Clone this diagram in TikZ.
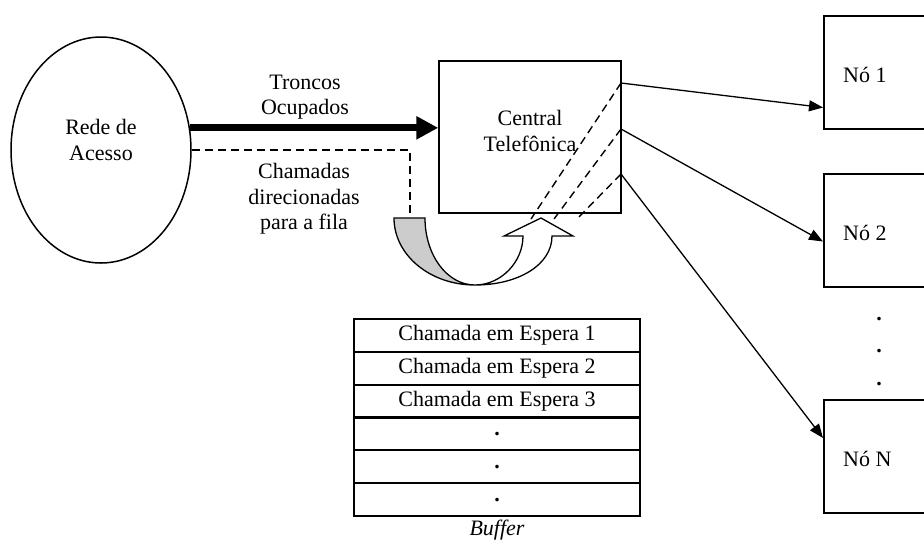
\documentclass[tikz,border=0pt]{standalone}
\usepackage{fontspec}
\setmainfont{Liberation Serif}
\usetikzlibrary{arrows.meta,shapes.geometric,calc}

\begin{document}
\begin{tikzpicture}[x=1pt,y=-1pt,
  txt/.style={font=\fontsize{22}{25.5}\selectfont, inner sep=0pt, align=center},
  itxt/.style={font=\fontsize{22}{25.5}\selectfont\itshape, inner sep=0pt},
  box/.style={draw, line width=1.5pt, inner sep=0pt},
  rowbox/.style={draw, line width=2pt, inner sep=0pt, minimum width=286pt, minimum height=32.83pt,
                 font=\fontsize{22}{25.5}\selectfont},
  dsh/.style={dash pattern=on 8pt off 5pt, line width=1.4pt},
  link/.style={line width=1.3pt, -{Triangle[length=14pt,width=11pt]}},
  trunk/.style={line width=7pt, -{Triangle[length=22pt,width=22pt]}},
  uturn/.style={line width=1.3pt, line join=miter},
]
\useasboundingbox (0,0) rectangle (924,542);
\clip (0,0) rectangle (924,542);

% access network
\node[box, ellipse, minimum width=180pt, minimum height=226pt] (rede) at (101,150) {};
\node[txt] (redetxt) at (101,140) {Rede de\\Acesso};

% telephone exchange
\node[box, minimum width=182pt, minimum height=152pt] (central) at (530,137) {};
\node[txt] (centraltxt) at (530,131) {Central\\Telefônica};

% destination nodes (open on the right side)
\node[box, minimum width=130pt, minimum height=113pt, anchor=north west] (n1) at (823,15) {};
\node[txt, anchor=west] (n1txt) at (843,75) {Nó 1};
\node[box, minimum width=130pt, minimum height=113pt, anchor=north west] (n2) at (823,173) {};
\node[txt, anchor=west] (n2txt) at (843,233) {Nó 2};
\node[box, minimum width=130pt, minimum height=113pt, anchor=north west] (nN) at (823,399) {};
\node[txt, anchor=west] (nNtxt) at (843,459) {Nó N};
\node[txt] (dotA) at (879,319) {\bfseries .};
\node[txt] (dotB) at (879,351) {\bfseries .};
\node[txt] (dotC) at (879,384) {\bfseries .};

% labels of the incoming links
\node[txt] (troncos) at (305,97) {Troncos\\Ocupados};
\node[txt] (chamadas) at (304,199) {Chamadas\\direcionadas\\para a fila};

% busy trunks
\draw[trunk] (rede.14) -- (rede.14 -| central.west);

% queued calls
\coordinate (qin) at (410,218);
\draw[dsh] (rede.east) -| (qin);

% U-turn arrow: into the queue and back to the exchange
\draw[uturn, fill=gray!40] (394,218) -- (425,218)
  .. controls (425,255) and (447,285) .. (475,285)
  .. controls (430,285) and (394,255) .. (394,218) -- cycle;
\draw[uturn, fill=white] (475,285)
  .. controls (501,285) and (523,262) .. (523,236)
  -- (504,236) -- (541,218) -- (573,236) -- (552,236)
  .. controls (552,265) and (518,285) .. (475,285) -- cycle;

% exits on the exchange
\coordinate (p1) at (621,83);
\coordinate (p2) at (621,129);
\coordinate (p3) at (621,174);
\coordinate (d1) at (531,219);
\coordinate (d2) at (554,219);
\coordinate (d3) at (577,219);
\draw[dsh] (p1) -- (d1);
\draw[dsh] (p2) -- (d2);
\draw[dsh] (p3) -- (d3);

\draw[link] (p1) -- ($(n1.south west)+(0,-22)$);
\draw[link] (p2) -- ($(n2.south west)+(0,-46)$);
\draw[link] (p3) -- ($(nN.north west)+(0,39)$);

% waiting buffer
\node[rowbox] (r1) at (497,335.4) {Chamada em Espera 1};
\node[rowbox] (r2) at (497,368.2) {Chamada em Espera 2};
\node[rowbox] (r3) at (497,401.1) {Chamada em Espera 3};
\node[rowbox] (r4) at (497,433.9) {\bfseries .};
\node[rowbox] (r5) at (497,466.7) {\bfseries .};
\node[rowbox] (r6) at (497,499.6) {\bfseries .};
\node[itxt] (buf) at (497,530) {Buffer};
\end{tikzpicture}
\end{document}
